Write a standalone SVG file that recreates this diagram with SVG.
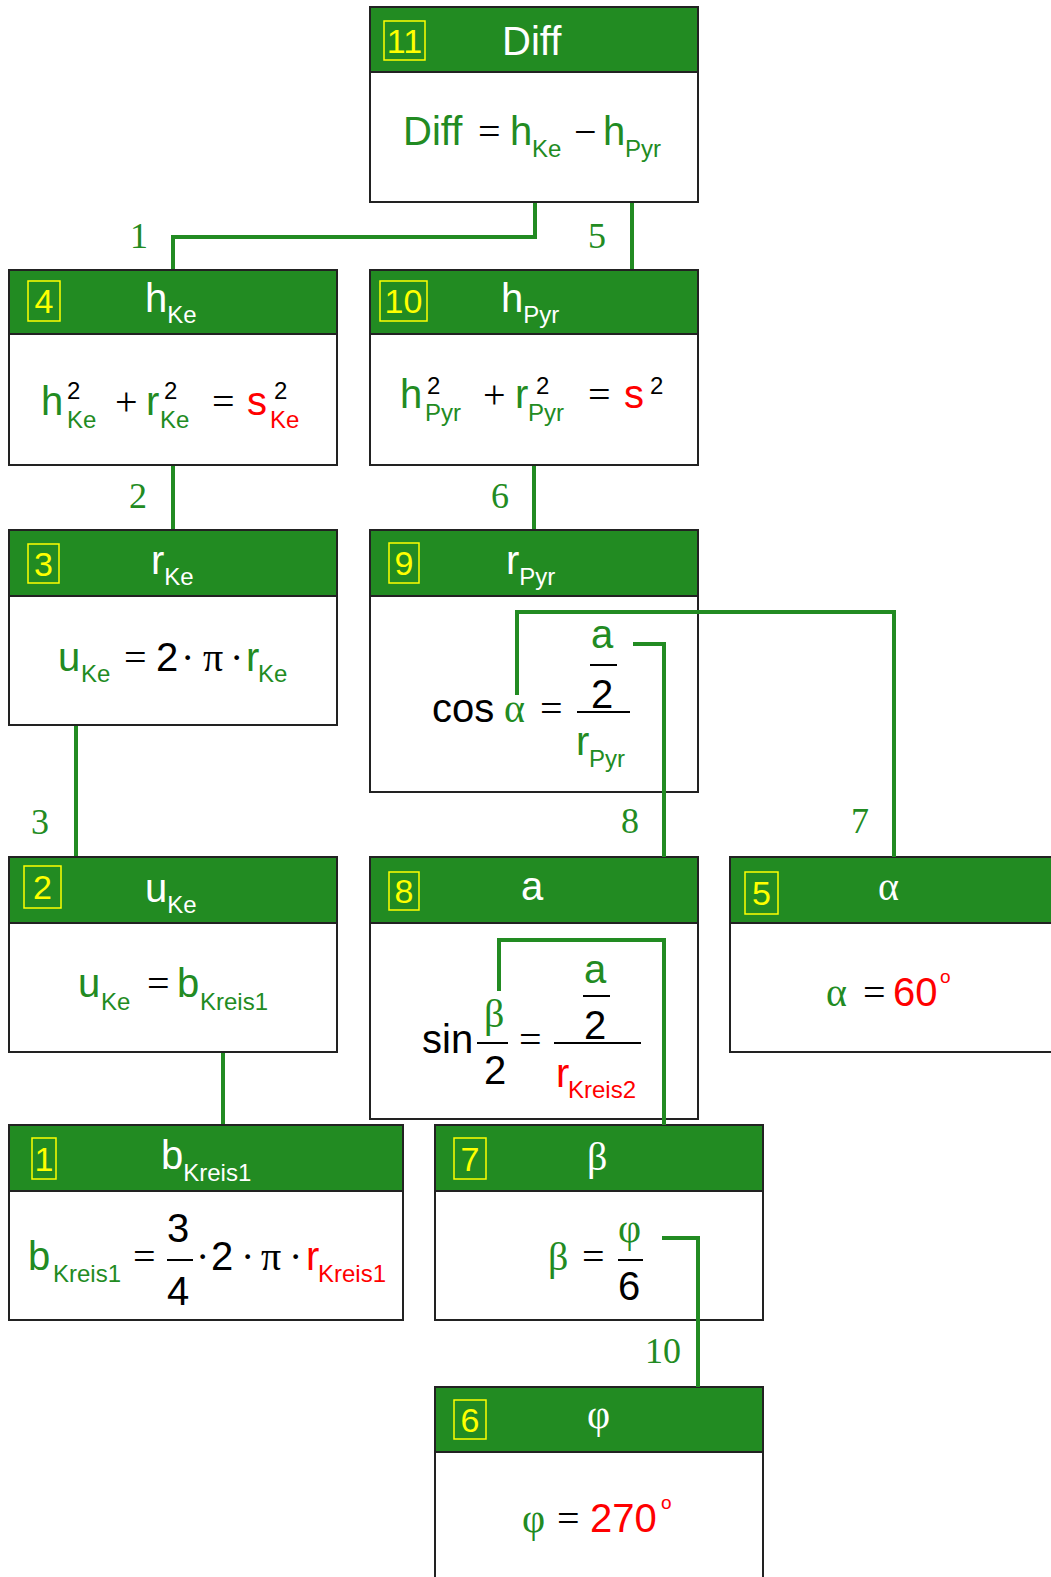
<svg xmlns="http://www.w3.org/2000/svg" width="1051" height="1577" viewBox="0 0 1051 1577">
<style>
.bd{fill:#fff;stroke:#222;stroke-width:2}
.hd{fill:#228B22;stroke:#222;stroke-width:2}
.nb{fill:none;stroke:#ffff00;stroke-width:1.5}
.num{fill:#ffff00;font-family:"Liberation Sans",Arial,sans-serif;font-size:34px;text-anchor:middle}
.t{fill:#fff;font-family:"Liberation Sans",Arial,sans-serif;font-size:40px}
.f{font-family:"Liberation Sans",Arial,sans-serif;font-size:40px}
.s{font-family:"Liberation Sans",Arial,sans-serif;font-size:24px}
.dg{font-family:"Liberation Sans",Arial,sans-serif;font-size:19px}
.sr{font-family:"Liberation Serif","Times New Roman",serif;font-size:40px}
.g{fill:#228B22}
.k{fill:#000}
.r{fill:#ff0000}
.w{fill:#fff}
.fl{stroke:#000;stroke-width:2}
.c{fill:none;stroke:#228B22;stroke-width:4}
.lbl{fill:#228B22;font-family:"Liberation Serif","Times New Roman",serif;font-size:36px;text-anchor:middle}
</style>

<g id="connectors">
<polyline class="c" points="535,170 535,237 173,237 173,270"/>
<polyline class="c" points="632,170 632,270"/>
<polyline class="c" points="173,447 173,530"/>
<polyline class="c" points="534,447 534,530"/>
<polyline class="c" points="76,692 76,857"/>
<polyline class="c" points="223,1037 223,1125"/>
<text class="lbl" x="139" y="248">1</text>
<text class="lbl" x="597" y="248">5</text>
<text class="lbl" x="138" y="508">2</text>
<text class="lbl" x="500" y="508">6</text>
<text class="lbl" x="40" y="834">3</text>
<text class="lbl" x="630" y="833">8</text>
<text class="lbl" x="860" y="833">7</text>
<text class="lbl" x="663" y="1363">10</text>
</g>

<g id="node11">
<rect class="bd" x="370" y="7" width="328" height="195"/>
<rect class="hd" x="370" y="7" width="328" height="65"/>
<rect class="nb" x="384" y="21" width="41" height="39"/>
<text class="num" x="404.5" y="53">11</text>
<text class="t" x="502" y="55">Diff</text>
<text class="f g" x="403" y="145">Diff</text>
<text class="sr k" x="478" y="145">=</text>
<text class="f g" x="510" y="145">h</text>
<text class="s g" x="532" y="157">Ke</text>
<text class="sr k" x="574" y="145">−</text>
<text class="f g" x="603" y="145">h</text>
<text class="s g" x="625" y="157">Pyr</text>
</g>

<g id="node4">
<rect class="bd" x="9" y="270" width="328" height="195"/>
<rect class="hd" x="9" y="270" width="328" height="64"/>
<rect class="nb" x="28" y="281" width="32" height="40"/>
<text class="num" x="44" y="313">4</text>
<text class="t" x="145" y="312">h<tspan class="s w" y="323">Ke</tspan></text>
<text class="f g" x="41" y="415">h</text>
<text class="s k" x="67" y="399">2</text>
<text class="s g" x="67" y="428">Ke</text>
<text class="sr k" x="115" y="415">+</text>
<text class="f g" x="146" y="415">r</text>
<text class="s k" x="164" y="399">2</text>
<text class="s g" x="160" y="428">Ke</text>
<text class="sr k" x="212" y="415">=</text>
<text class="f r" x="247" y="415">s</text>
<text class="s k" x="274" y="399">2</text>
<text class="s r" x="270" y="428">Ke</text>
</g>

<g id="node10">
<rect class="bd" x="370" y="270" width="328" height="195"/>
<rect class="hd" x="370" y="270" width="328" height="64"/>
<rect class="nb" x="380" y="281" width="47" height="40"/>
<text class="num" x="403.5" y="313">10</text>
<text class="t" x="501" y="312">h<tspan class="s w" y="323">Pyr</tspan></text>
<text class="f g" x="400" y="408">h</text>
<text class="s k" x="427" y="394">2</text>
<text class="s g" x="425" y="421">Pyr</text>
<text class="sr k" x="483" y="408">+</text>
<text class="f g" x="515" y="408">r</text>
<text class="s k" x="536" y="394">2</text>
<text class="s g" x="528" y="421">Pyr</text>
<text class="sr k" x="588" y="408">=</text>
<text class="f r" x="624" y="408">s</text>
<text class="s k" x="650" y="394">2</text>
</g>

<g id="node3">
<rect class="bd" x="9" y="530" width="328" height="195"/>
<rect class="hd" x="9" y="530" width="328" height="66"/>
<rect class="nb" x="28" y="544" width="31" height="39"/>
<text class="num" x="43.5" y="576">3</text>
<text class="t" x="151" y="574">r<tspan class="s w" y="585">Ke</tspan></text>
<text class="f g" x="58" y="671">u</text>
<text class="s g" x="81" y="682">Ke</text>
<text class="sr k" x="124" y="671">=</text>
<text class="f k" x="156" y="671">2</text>
<text class="sr k" x="181" y="671">·</text>
<text class="sr k" x="203" y="671">π</text>
<text class="sr k" x="230" y="671">·</text>
<text class="f g" x="246" y="671">r</text>
<text class="s g" x="258" y="682">Ke</text>
</g>

<g id="node9">
<rect class="bd" x="370" y="530" width="328" height="262"/>
<rect class="hd" x="370" y="530" width="328" height="66"/>
<rect class="nb" x="389" y="543" width="30" height="40"/>
<text class="num" x="404" y="575">9</text>
<text class="t" x="506" y="574">r<tspan class="s w" y="585">Pyr</tspan></text>
<text class="f k" x="432" y="722">cos</text>
<text class="sr g" x="504" y="722">α</text>
<text class="sr k" x="540" y="722">=</text>
<line class="fl" x1="577" y1="712" x2="630" y2="712"/>
<text class="f g" x="591" y="648">a</text>
<line class="fl" x1="590" y1="665" x2="617" y2="665"/>
<text class="f k" x="591" y="708">2</text>
<text class="f g" x="576" y="755">r</text>
<text class="s g" x="589" y="767">Pyr</text>
</g>

<g id="node2">
<rect class="bd" x="9" y="857" width="328" height="195"/>
<rect class="hd" x="9" y="857" width="328" height="66"/>
<rect class="nb" x="24" y="866" width="37" height="42"/>
<text class="num" x="42.5" y="899">2</text>
<text class="t" x="145" y="902">u<tspan class="s w" y="913">Ke</tspan></text>
<text class="f g" x="78" y="997">u</text>
<text class="s g" x="101" y="1010">Ke</text>
<text class="sr k" x="147" y="997">=</text>
<text class="f g" x="177" y="997">b</text>
<text class="s g" x="200" y="1010">Kreis1</text>
</g>

<g id="node8">
<rect class="bd" x="370" y="857" width="328" height="262"/>
<rect class="hd" x="370" y="857" width="328" height="66"/>
<rect class="nb" x="389" y="872" width="30" height="38"/>
<text class="num" x="404" y="903">8</text>
<text class="t" x="521" y="900">a</text>
<text class="f k" x="422" y="1053">sin</text>
<text class="sr g" x="484" y="1027">β</text>
<line class="fl" x1="477" y1="1043" x2="508" y2="1043"/>
<text class="f k" x="484" y="1084">2</text>
<text class="sr k" x="519" y="1053">=</text>
<line class="fl" x1="554" y1="1043" x2="641" y2="1043"/>
<text class="f g" x="584" y="983">a</text>
<line class="fl" x1="583" y1="996" x2="610" y2="996"/>
<text class="f k" x="584" y="1039">2</text>
<text class="f r" x="556" y="1087">r</text>
<text class="s r" x="568" y="1098">Kreis2</text>
</g>

<g id="node5">
<rect class="bd" x="730" y="857" width="340" height="195"/>
<rect class="hd" x="730" y="857" width="340" height="66"/>
<rect class="nb" x="745" y="872" width="33" height="42"/>
<text class="num" x="761.5" y="905">5</text>
<text class="sr w" x="878" y="900">α</text>
<text class="sr g" x="826" y="1006">α</text>
<text class="sr k" x="863" y="1006">=</text>
<text class="f r" x="893" y="1006">60</text>
<text class="dg r" x="940" y="983">o</text>
</g>

<g id="node1">
<rect class="bd" x="9" y="1125" width="394" height="195"/>
<rect class="hd" x="9" y="1125" width="394" height="66"/>
<rect class="nb" x="32" y="1138" width="24" height="41"/>
<text class="num" x="44" y="1171">1</text>
<text class="t" x="161" y="1169">b<tspan class="s w" y="1181">Kreis1</tspan></text>
<text class="f g" x="28" y="1270">b</text>
<text class="s g" x="53" y="1282">Kreis1</text>
<text class="sr k" x="133" y="1270">=</text>
<text class="f k" x="167" y="1242">3</text>
<line class="fl" x1="167" y1="1260" x2="193" y2="1260"/>
<text class="f k" x="167" y="1305">4</text>
<text class="sr k" x="196" y="1270">·</text>
<text class="f k" x="211" y="1270">2</text>
<text class="sr k" x="241" y="1270">·</text>
<text class="sr k" x="261" y="1270">π</text>
<text class="sr k" x="289" y="1270">·</text>
<text class="f r" x="306" y="1270">r</text>
<text class="s r" x="318" y="1282">Kreis1</text>
</g>

<g id="node7">
<rect class="bd" x="435" y="1125" width="328" height="195"/>
<rect class="hd" x="435" y="1125" width="328" height="66"/>
<rect class="nb" x="454" y="1138" width="32" height="41"/>
<text class="num" x="470" y="1171">7</text>
<text class="sr w" x="587" y="1170">β</text>
<text class="sr g" x="548" y="1270">β</text>
<text class="sr k" x="582" y="1270">=</text>
<text class="sr g" x="618" y="1242">φ</text>
<line class="fl" x1="618" y1="1260" x2="643" y2="1260"/>
<text class="f k" x="618" y="1300">6</text>
</g>

<g id="node6">
<rect class="bd" x="435" y="1387" width="328" height="210"/>
<rect class="hd" x="435" y="1387" width="328" height="65"/>
<rect class="nb" x="454" y="1400" width="32" height="39"/>
<text class="num" x="470" y="1432">6</text>
<text class="sr w" x="587" y="1428">φ</text>
<text class="sr g" x="522" y="1532">φ</text>
<text class="sr k" x="557" y="1532">=</text>
<text class="f r" x="590" y="1532">270</text>
<text class="dg r" x="661" y="1509">o</text>
</g>

<g id="connectors-over">
<polyline class="c" points="517,695 517,612 894,612 894,857"/>
<polyline class="c" points="633,644 664,644 664,857"/>
<polyline class="c" points="499,991 499,940 664,940 664,1125"/>
<polyline class="c" points="662,1238 698,1238 698,1387"/>
</g>
</svg>
